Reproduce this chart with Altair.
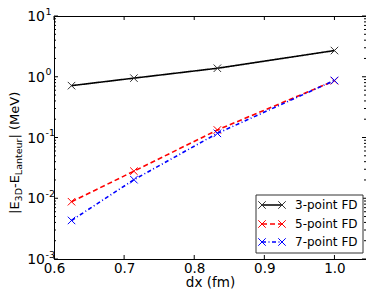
import altair as alt
import pandas as pd

# ---- data ----
dx = [0.625, 0.714, 0.833, 1.0]
fd3 = [0.714, 0.949, 1.38, 2.70]
fd5 = [0.00877, 0.0279, 0.133, 0.86]
fd7 = [0.00431, 0.0202, 0.117, 0.87]
series_names = ["3-point FD", "5-point FD", "7-point FD"]
x_ticks = [0.6, 0.7, 0.8, 0.9, 1.0]
y_decades = [0.001, 0.01, 0.1, 1, 10]
y_exponents = ["-3", "-2", "-1", "0", "1"]

W, H = 312, 243
FONT = "DejaVu Sans"
XSHAPE = "M-1,-1L1,1M-1,1L1,-1"
xs = alt.Scale(domain=[0.6, 1.045], nice=False, zero=False)
ys = alt.Scale(type="log", domain=[0.001, 10], nice=False)
xaxis = alt.Axis(values=x_ticks, format=".1f", ticks=False, domain=False, grid=False,
                 labelFont=FONT, labelFontSize=13.5, labelColor="black", labelPadding=2,
                 labelFlush=False,
                 title="dx (fm)", titleFont=FONT, titleFontSize=13.5,
                 titleFontWeight="normal", titleColor="black", titlePadding=1)

styles = [
    dict(color="black", marker="#333333", dash=[1, 0]),
    dict(color="#ff0000", marker="#ff0000", dash=[5, 3]),
    dict(color="#0000ff", marker="#0000ff", dash=[4, 2.5, 1, 2.5]),
]
values = [fd3, fd5, fd7]

layers = []
for name, vals, st in zip(series_names, values, styles):
    df = pd.DataFrame({"dx": dx, "val": vals, "series": name})
    xenc = alt.X("dx:Q", scale=xs, axis=xaxis)
    yenc = alt.Y("val:Q", scale=ys, axis=None)
    line = alt.Chart(df).mark_line(color=st["color"], strokeWidth=1.6,
                                   strokeDash=st["dash"]).encode(x=xenc, y=yenc)
    pts = alt.Chart(df).mark_point(shape=XSHAPE, size=56, filled=False,
                                   color=st["marker"], strokeWidth=1,
                                   opacity=1).encode(x=xenc, y=yenc)
    layers += [line, pts]

# ---- inward ticks on all four sides ----
ymaj = pd.DataFrame({"v": y_decades})
yminor_vals = [m * d for d in y_decades[:-1] for m in range(2, 10)]
ymin = pd.DataFrame({"v": yminor_vals})
xt = pd.DataFrame({"dx": x_ticks})

def yrule(df, x1, x2):
    return alt.Chart(df).mark_rule(color="black", strokeWidth=1).encode(
        y=alt.Y("v:Q", scale=ys, axis=None), x=alt.value(x1), x2=alt.value(x2))

def xrule(df, y1, y2):
    return alt.Chart(df).mark_rule(color="black", strokeWidth=1).encode(
        x=alt.X("dx:Q", scale=xs, axis=xaxis), y=alt.value(y1), y2=alt.value(y2))

layers += [yrule(ymaj, 0, 4), yrule(ymaj, W - 4, W),
           yrule(ymin, 0, 2), yrule(ymin, W - 2, W),
           xrule(xt, H - 4, H), xrule(xt, 0, 4)]

# ---- y tick labels 10^k ----
ylab = pd.DataFrame({"v": y_decades, "exp": y_exponents, "base": ["10"] * 5})
layers.append(alt.Chart(ylab).mark_text(font=FONT, fontSize=14, align="right",
                                         baseline="middle", dy=1, color="black").encode(
    y=alt.Y("v:Q", scale=ys, axis=None), x=alt.value(-9), text="base:N"))
layers.append(alt.Chart(ylab).mark_text(font=FONT, fontSize=9.5, align="left",
                                         baseline="middle", dy=-4.5, dx=0.5, color="black").encode(
    y=alt.Y("v:Q", scale=ys, axis=None), x=alt.value(-9), text="exp:N"))

# ---- y axis title with subscripts, rotated ----
W_EM = {"|": 0.337, "E": 0.632, "-": 0.361, " ": 0.318, "(": 0.390, "M": 0.863,
        "e": 0.615, "V": 0.684, ")": 0.390, "3": 0.636, "D": 0.770, "L": 0.557,
        "a": 0.613, "n": 0.634, "t": 0.392, "u": 0.634, "r": 0.411}
BIG, SMALL = 13, 9.5
pieces = [("|E", BIG, 0), ("3D", SMALL, 3), ("-E", BIG, 0), ("Lanteur", SMALL, 3),
          ("| (MeV)", BIG, 0)]
ypos = 198.0
one = pd.DataFrame({"k": [0]})
for txt, fs, shift in pieces:
    layers.append(alt.Chart(one).mark_text(font=FONT, fontSize=fs, angle=270,
                                            align="left", baseline="alphabetic",
                                            color="black", text=txt).encode(
        x=alt.value(-35 + shift), y=alt.value(ypos)))
    ypos -= sum(W_EM[c] for c in txt) * fs

# ---- legend box ----
layers.append(alt.Chart(one).mark_rect(fill="white", stroke="#333333",
                                        strokeWidth=1).encode(
    x=alt.value(202), x2=alt.value(309), y=alt.value(179), y2=alt.value(237)))
rows_y = [189, 208, 226]
for name, st, ry in zip(series_names, styles, rows_y):
    layers.append(alt.Chart(one).mark_rule(color=st["color"], strokeWidth=1.6,
                                            strokeDash=st["dash"]).encode(
        x=alt.value(208), x2=alt.value(228), y=alt.value(ry)))
    for mx in (208, 228):
        layers.append(alt.Chart(one).mark_point(shape=XSHAPE, size=56, filled=False,
                                                 color=st["marker"], strokeWidth=1,
                                                 opacity=1).encode(
            x=alt.value(mx), y=alt.value(ry)))
    layers.append(alt.Chart(one).mark_text(font=FONT, fontSize=12, align="left",
                                            baseline="middle", color="black",
                                            text=name).encode(
        x=alt.value(241), y=alt.value(ry)))

chart = alt.layer(*layers).properties(
    width=W, height=H,
    autosize=alt.AutoSizeParams(type="none"),
    padding={"left": 46, "top": 8, "right": 0, "bottom": 31},
    background="white",
).configure_view(stroke="black", strokeWidth=1)

chart.save("out.html", embed_options={"renderer": "svg", "actions": False})
